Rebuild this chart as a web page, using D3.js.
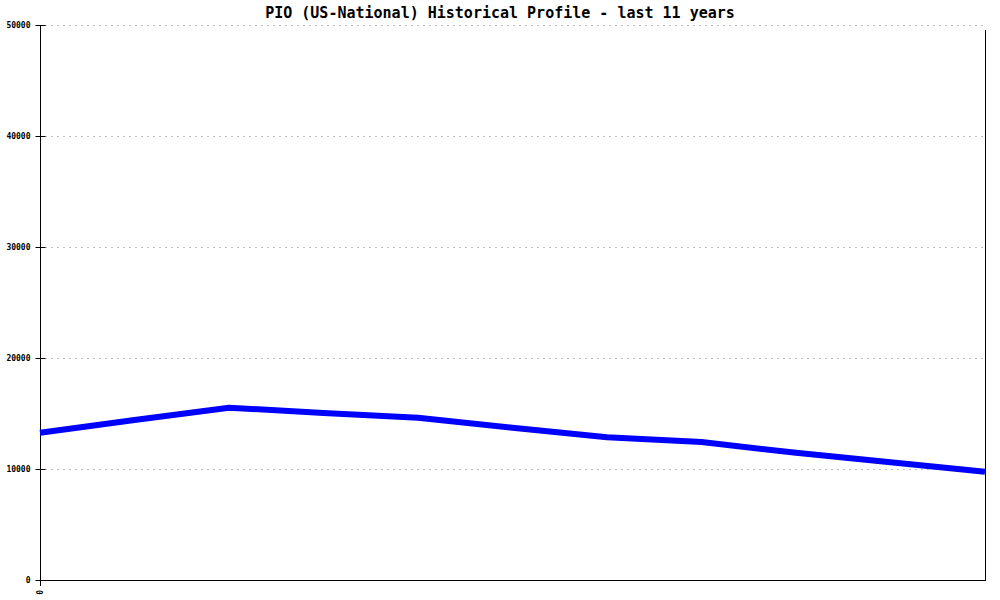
<!DOCTYPE html>
<html>
<head>
<meta charset="utf-8">
<script src="https://cdn.jsdelivr.net/npm/d3@7"></script>
<style>
  html, body { margin: 0; padding: 0; background: #fff; }
  svg { display: block; }
</style>
</head>
<body>
<svg id="chart" width="1000" height="600"></svg>
<script>
const title = "PIO (US-National) Historical Profile - last 11 years";
const periods = [0, 1, 2, 3, 4, 5, 6, 7, 8, 9, 10];
const values = [13270, 14410, 15520, 15050, 14620, 13710, 12870, 12430, 11460, 10610, 9760];
const yTicks = [0, 10000, 20000, 30000, 40000, 50000];
const xTickLabels = [{ at: 0, label: "0" }];

const svg = d3.select("#chart");
const mLeft = 40, mRight = 985, mTop = 25, mBottom = 580;

const x = d3.scaleLinear().domain([0, periods.length - 1]).range([mLeft, mRight]);
const y = d3.scaleLinear().domain([0, 50000]).range([mBottom, mTop]);

// grid lines
svg.append("g")
  .selectAll("line")
  .data(yTicks.filter(d => d > 0))
  .join("line")
  .attr("x1", mLeft + 5).attr("x2", mRight)
  .attr("y1", d => y(d) + 0.5).attr("y2", d => y(d) + 0.5)
  .attr("stroke", "#c0c0c0")
  .attr("stroke-width", 1)
  .attr("stroke-dasharray", "2,4");

// y axis
const yAxis = d3.axisLeft(y).tickValues(yTicks).tickSize(5).tickPadding(5).tickFormat(d3.format("d"));
const gy = svg.append("g").attr("transform", `translate(${mLeft + 0.5},0)`).call(yAxis);
gy.select(".domain").remove();
gy.selectAll(".tick line").attr("x2", -5).attr("x1", 5).attr("stroke", "#000");
gy.selectAll(".tick text")
  .attr("font-family", "DejaVu Sans Mono, monospace")
  .attr("font-size", "8px")
  .attr("font-weight", "bold")
  .attr("fill", "#000");

// axis frame lines
svg.append("line").attr("x1", mLeft + 0.5).attr("x2", mLeft + 0.5).attr("y1", mTop).attr("y2", mBottom + 6).attr("stroke", "#000");
svg.append("line").attr("x1", mRight + 0.5).attr("x2", mRight + 0.5).attr("y1", mTop + 5).attr("y2", mBottom).attr("stroke", "#000");
svg.append("line").attr("x1", mLeft).attr("x2", mRight + 1).attr("y1", mBottom + 0.5).attr("y2", mBottom + 0.5).attr("stroke", "#000");

// x tick labels
svg.append("g")
  .selectAll("text")
  .data(xTickLabels)
  .join("text")
  .attr("transform", d => `translate(${x(d.at) + 3},${mBottom + 10}) rotate(-90)`)
  .attr("text-anchor", "end")
  .attr("font-family", "DejaVu Sans Mono, monospace")
  .attr("font-size", "8px")
  .attr("font-weight", "bold")
  .text(d => d.label);

// data line
const line = d3.line().x((d, i) => x(periods[i])).y(d => y(d));
svg.append("path")
  .datum(values)
  .attr("d", line)
  .attr("fill", "none")
  .attr("stroke", "#0000ff")
  .attr("stroke-width", 6)
  .attr("stroke-linejoin", "round");

// title
svg.append("text")
  .attr("x", 500).attr("y", 18)
  .attr("text-anchor", "middle")
  .attr("font-family", "DejaVu Sans Mono, monospace")
  .attr("font-size", "15px")
  .attr("font-weight", "bold")
  .text(title);
</script>
</body>
</html>
